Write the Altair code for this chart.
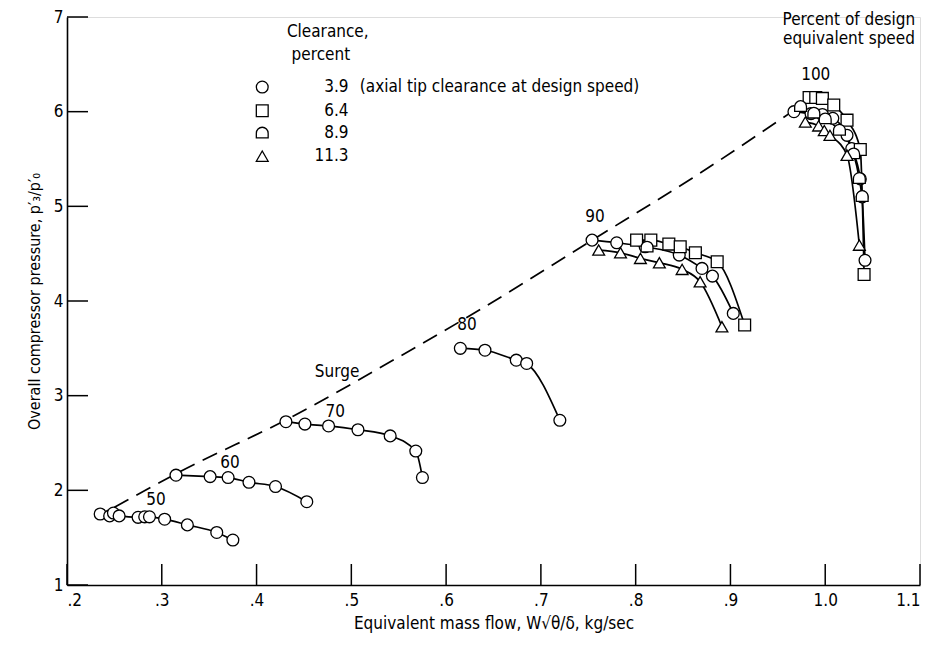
import altair as alt
import pandas as pd

# ---------------- data ----------------
# 50 percent speed, clearance 3.9
s50_x = [0.235, 0.245, 0.249, 0.255, 0.275, 0.282, 0.287, 0.303, 0.327, 0.358, 0.375]
s50_y = [1.75, 1.73, 1.76, 1.73, 1.715, 1.72, 1.72, 1.695, 1.635, 1.555, 1.475]
# 60 percent speed, clearance 3.9
s60_x = [0.315, 0.351, 0.370, 0.392, 0.420, 0.453]
s60_y = [2.16, 2.145, 2.135, 2.085, 2.04, 1.88]
# 70 percent speed, clearance 3.9
s70_x = [0.431, 0.451, 0.476, 0.507, 0.541, 0.568, 0.575]
s70_y = [2.725, 2.70, 2.68, 2.64, 2.575, 2.415, 2.135]
# 80 percent speed, clearance 3.9
s80_x = [0.615, 0.641, 0.674, 0.685, 0.720]
s80_y = [3.50, 3.48, 3.375, 3.34, 2.74]
# 90 percent speed
s90_c39_x = [0.754, 0.780, 0.810, 0.846, 0.870, 0.881, 0.903]
s90_c39_y = [4.643, 4.615, 4.573, 4.485, 4.344, 4.263, 3.869]
s90_c64_x = [0.801, 0.816, 0.835, 0.847, 0.863, 0.886, 0.915]
s90_c64_y = [4.643, 4.643, 4.601, 4.573, 4.51, 4.415, 3.746]
s90_c89_x = [0.812]
s90_c89_y = [4.565]
s90_c113_x = [0.761, 0.784, 0.805, 0.825, 0.849, 0.868, 0.891]
s90_c113_y = [4.538, 4.51, 4.45, 4.404, 4.334, 4.203, 3.728]
# 100 percent speed
s100_c39_x = [0.967, 0.985, 0.997, 1.008, 1.023, 1.028, 1.037, 1.039, 1.042]
s100_c39_y = [6.00, 5.98, 5.97, 5.93, 5.75, 5.61, 5.29, 5.10, 4.43]
s100_c64_x = [0.983, 0.990, 0.997, 1.009, 1.023, 1.037, 1.041]
s100_c64_y = [6.15, 6.15, 6.14, 6.07, 5.91, 5.60, 4.28]
s100_c89_x = [0.974, 0.988, 1.000, 1.015, 1.030, 1.036, 1.039]
s100_c89_y = [6.05, 5.98, 5.92, 5.80, 5.55, 5.29, 5.10]
s100_c113_x = [0.979, 0.993, 0.999, 1.005, 1.023, 1.036]
s100_c113_y = [5.89, 5.85, 5.80, 5.75, 5.54, 4.59]

# surge line
surge_x = [0.25, 0.316, 0.44, 0.545, 0.636, 0.752, 0.86, 0.965]
surge_y = [1.82, 2.18, 2.79, 3.38, 3.91, 4.63, 5.30, 6.00]

# speed labels
speed_lab_x = [0.294, 0.372, 0.483, 0.622, 0.757, 0.990]
speed_lab_y = [1.90, 2.285, 2.83, 3.75, 4.89, 6.386]
speed_lab_t = ["50", "60", "70", "80", "90", "100"]

# other annotations (centred)
note_x = [0.485, 1.025, 1.025]
note_y = [3.25, 6.97, 6.77]
note_t = ["Surge", "Percent of design", "equivalent speed"]

# key (legend) content
clearances = ["3.9", "6.4", "8.9", "11.3"]
key_title = ["Clearance,", "percent"]
key_title_x = [0.432, 0.437]
key_title_y = [6.845, 6.60]
key_sym_x = 0.406
key_num_x = 0.497
key_note_x = 0.509
key_row_y = [6.26, 6.01, 5.77, 5.53]
key_note = "(axial tip clearance at design speed)"

x_ticks = [0.2, 0.3, 0.4, 0.5, 0.6, 0.7, 0.8, 0.9, 1.0, 1.1]
y_ticks = [1, 2, 3, 4, 5, 6, 7]

# ---------------- tables ----------------
curves = [
    ("50", "3.9", s50_x, s50_y), ("60", "3.9", s60_x, s60_y),
    ("70", "3.9", s70_x, s70_y), ("80", "3.9", s80_x, s80_y),
    ("90", "3.9", s90_c39_x, s90_c39_y), ("90", "6.4", s90_c64_x, s90_c64_y),
    ("90", "8.9", s90_c89_x, s90_c89_y), ("90", "11.3", s90_c113_x, s90_c113_y),
    ("100", "3.9", s100_c39_x, s100_c39_y), ("100", "6.4", s100_c64_x, s100_c64_y),
    ("100", "8.9", s100_c89_x, s100_c89_y), ("100", "11.3", s100_c113_x, s100_c113_y),
]
rows = []
for sp, cl, xs, ys in curves:
    for xv, yv in zip(xs, ys):
        rows.append({"x": xv, "y": yv, "clearance": cl, "curve": sp + "_" + cl})
pts = pd.DataFrame(rows)

surge = pd.DataFrame({"x": surge_x, "y": surge_y})
labs = pd.DataFrame({"x": speed_lab_x + note_x, "y": speed_lab_y + note_y,
                     "t": speed_lab_t + note_t})
key_syms = pd.DataFrame({"x": [key_sym_x] * 4, "y": key_row_y, "clearance": clearances})
key_nums = pd.DataFrame({"x": [key_num_x] * 4, "y": key_row_y, "t": clearances})
key_txt = pd.DataFrame({"x": key_title_x + [key_note_x],
                        "y": key_title_y + [key_row_y[0]],
                        "t": key_title + [key_note]})
xt = pd.DataFrame({"t": x_ticks})
yt = pd.DataFrame({"t": y_ticks})

# ---------------- styling ----------------
FONT = "DejaVu Sans Condensed, Liberation Sans Narrow, Liberation Sans, sans-serif"
W, H = 853, 568
TICK = 21
FS = 17

xscale = alt.Scale(domain=[0.2, 1.1], nice=False, zero=False)
yscale = alt.Scale(domain=[1, 7], nice=False, zero=False)

xaxis = alt.Axis(values=x_ticks, ticks=False, grid=False, domain=True,
                 domainColor="black", domainWidth=1.6,
                 labelExpr="datum.value < 0.99 ? replace(format(datum.value, '.1f'), '0.', '.') : format(datum.value, '.1f')",
                 labelFont=FONT, labelFontSize=FS, labelColor="black", labelPadding=7,
                 title="Equivalent mass flow, W\u221A\u03B8/\u03B4, kg/sec",
                 titleFont=FONT, titleFontSize=17, titleFontWeight="normal",
                 titleColor="black", titlePadding=7)
yaxis = alt.Axis(values=y_ticks, ticks=False, grid=False, domain=True,
                 domainColor="black", domainWidth=1.6, format="d",
                 labelFont=FONT, labelFontSize=FS, labelColor="black", labelPadding=4,
                 title="Overall compressor pressure, p\u2032\u2083/p\u2032\u2080",
                 titleFont=FONT, titleFontSize=16, titleFontWeight="normal",
                 titleColor="black", titlePadding=11)


def X(f):
    return alt.X(f, type="quantitative", scale=xscale, axis=xaxis)


def Y(f):
    return alt.Y(f, type="quantitative", scale=yscale, axis=yaxis)


half_circle = "M-1,0.75L-1,-0.05A1,1,0,0,1,1,-0.05L1,0.75Z"
shape_scale = alt.Scale(domain=clearances,
                        range=["circle", "square", half_circle, "triangle-up"])

lines = alt.Chart(pts).mark_line(interpolate="monotone", color="black",
                                 strokeWidth=1.7).encode(
    x=X("x"), y=Y("y"), detail="curve:N")

surge_line = alt.Chart(surge).mark_line(interpolate="monotone", color="black",
                                        strokeWidth=1.7, strokeDash=[16, 9]).encode(
    x=X("x"), y=Y("y"))


def symbols(df):
    return alt.Chart(df).mark_point(filled=True, fill="white", stroke="black",
                                    strokeWidth=1.3, size=140, opacity=1).encode(
        x=X("x"), y=Y("y"),
        shape=alt.Shape("clearance:N", scale=shape_scale, legend=None))


points = symbols(pts)
key_points = symbols(key_syms)

texts = alt.Chart(labs).mark_text(font=FONT, fontSize=FS, color="black").encode(
    x=X("x"), y=Y("y"), text="t:N")
key_numbers = alt.Chart(key_nums).mark_text(font=FONT, fontSize=FS, color="black",
                                            align="right").encode(
    x=X("x"), y=Y("y"), text="t:N")
key_texts = alt.Chart(key_txt).mark_text(font=FONT, fontSize=FS, color="black",
                                         align="left").encode(
    x=X("x"), y=Y("y"), text="t:N")

xticks = alt.Chart(xt).mark_rule(color="black", strokeWidth=1.5).encode(
    x=X("t"), y=alt.value(H), y2=alt.value(H - TICK))
yticks = alt.Chart(yt).mark_rule(color="black", strokeWidth=1.5).encode(
    y=Y("t"), x=alt.value(0), x2=alt.value(TICK))

chart = alt.layer(xticks, yticks, surge_line, lines, points, texts,
                  key_points, key_numbers, key_texts).properties(
    width=W, height=H,
    padding={"left": 67, "top": 17, "right": 14, "bottom": 63},
    autosize=alt.AutoSizeParams(type="none"),
).configure_view(stroke=None).configure(background="white")

chart.save("out.html", embed_options={"renderer": "svg", "actions": False})
